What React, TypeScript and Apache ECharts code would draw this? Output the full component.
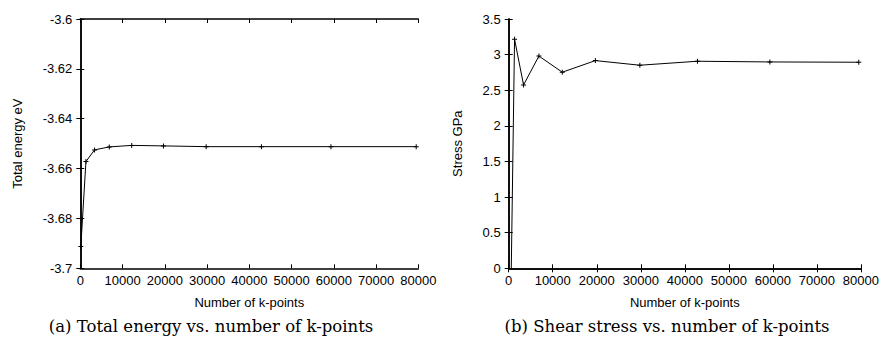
import React, { useEffect, useRef } from "react";
import * as echarts from "echarts";

const kPoints = [125, 1331, 3375, 6859, 12167, 19683, 29791, 42875, 59319, 79507];
const totalEnergy = [-3.6913, -3.6572, -3.6525, -3.6513, -3.6507, -3.6509, -3.6512, -3.6512, -3.6512, -3.6512];
const shearStress = [-2.0, 3.216, 2.574, 2.98, 2.753, 2.916, 2.851, 2.907, 2.897, 2.893];
const xTitle = "Number of k-points";
const yTitles = ["Total energy eV", "Stress GPa"];
const captions = ["(a) Total energy vs. number of k-points", "(b) Shear stress vs. number of k-points"];

const FONT = "Liberation Sans";
const PLUS = "path://M2,0H3V2H5V3H3V5H2V3H0V2H2Z";

function xAxes(gridIndex: number) {
  const base = {
    gridIndex,
    type: "value" as const,
    min: 0,
    max: 80000,
    interval: 10000,
    splitLine: { show: false },
    axisLine: { show: true, lineStyle: { color: "#000", width: 1.5 } },
    axisTick: { show: true, inside: true, length: 4, lineStyle: { color: "#000", width: 1 } },
  };
  return [
    {
      ...base,
      position: "bottom",
      name: xTitle,
      nameLocation: "middle",
      nameGap: 28,
      nameTextStyle: { fontFamily: FONT, fontSize: 13, color: "#000" },
      axisLabel: {
        fontFamily: FONT,
        fontSize: 13,
        color: "#000",
        margin: 6,
        formatter: (v: number) => String(v),
      },
    },
    { ...base, position: "top", axisLabel: { show: false } },
  ];
}

function yAxes(gridIndex: number, min: number, max: number, interval: number, name: string, gap: number) {
  const base = {
    gridIndex,
    type: "value" as const,
    min,
    max,
    interval,
    splitLine: { show: false },
    axisLine: { show: true, lineStyle: { color: "#000", width: 1.5 } },
    axisTick: { show: true, inside: true, length: 4, lineStyle: { color: "#000", width: 1 } },
  };
  return [
    {
      ...base,
      position: "left",
      name,
      nameLocation: "middle",
      nameGap: gap,
      nameTextStyle: { fontFamily: FONT, fontSize: 13, color: "#000" },
      axisLabel: {
        fontFamily: FONT,
        fontSize: 13,
        color: "#000",
        margin: 8,
        formatter: (v: number) => String(+v.toFixed(3)),
      },
    },
    { ...base, position: "right", axisLabel: { show: false } },
  ];
}

export default function App() {
  const ref = useRef<HTMLDivElement>(null);
  useEffect(() => {
    if (!ref.current) return;
    const chart = echarts.init(ref.current, undefined, { renderer: "svg" });
    const lineSeries = (xi: number, yi: number, vals: number[]) => ({
      type: "line",
      xAxisIndex: xi,
      yAxisIndex: yi,
      data: kPoints.map((k, i) => [k, vals[i]]),
      symbol: PLUS,
      symbolSize: 5,
      showSymbol: true,
      clip: true,
      lineStyle: { color: "#000", width: 1 },
      itemStyle: { color: "#000" },
    });
    const caption = (text: string, x: number) => ({
      type: "text",
      x,
      y: 326,
      style: {
        text,
        fontFamily: "DejaVu Serif",
        fontSize: 16.5,
        fill: "#000",
        textAlign: "center",
        textVerticalAlign: "middle",
      },
    });
    chart.setOption({
      animation: false,
      backgroundColor: "#fff",
      grid: [
        { left: 80.3, right: 463.7, top: 19, bottom: 74.7 },
        { left: 508.7, right: 19.3, top: 19, bottom: 74.7 },
      ],
      xAxis: [...xAxes(0), ...xAxes(1)],
      yAxis: [
        ...yAxes(0, -3.7, -3.6, 0.02, yTitles[0], 56),
        ...yAxes(1, 0, 3.5, 0.5, yTitles[1], 45),
      ],
      series: [lineSeries(0, 0, totalEnergy), lineSeries(2, 2, shearStress)],
      graphic: [caption(captions[0], 211), caption(captions[1], 667)],
    });
    return () => chart.dispose();
  }, []);
  return (
    <div
      ref={ref}
      style={{ position: "fixed", left: 0, top: 0, width: 882, height: 343 }}
    />
  );
}
